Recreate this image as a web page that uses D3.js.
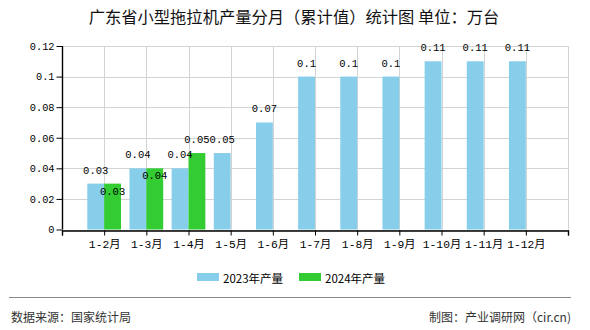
<!DOCTYPE html>
<html>
<head>
<meta charset="utf-8">
<script src="https://cdn.jsdelivr.net/npm/d3@7/dist/d3.min.js"></script>
<style>
  body { margin: 0; background: #fff; }
  svg { display: block; }
</style>
</head>
<body>
<svg id="chart" width="590" height="330"></svg>
<script>
const categories = ["1-2月","1-3月","1-4月","1-5月","1-6月","1-7月","1-8月","1-9月","1-10月","1-11月","1-12月"];
const values2023 = [0.03,0.04,0.04,0.05,0.07,0.1,0.1,0.1,0.11,0.11,0.11];
const values2024 = [0.03,0.04,0.05];
const seriesNames = ["2023年产量","2024年产量"];
const yTicks = [0,0.02,0.04,0.06,0.08,0.1,0.12];
const titleText = "广东省小型拖拉机产量分月（累计值）统计图 单位：万台";
const sourceText = "数据来源：国家统计局";
const creditText = "制图：产业调研网（cir.cn)";

const colors = ["#87CEEB", "#33CC33"];
const numFont = "'Liberation Mono','DejaVu Sans Mono',monospace";
const cjkFont = "'Noto Sans CJK SC','Liberation Sans',sans-serif";

const svg = d3.select("#chart");
const mLeft = 62, mRight = 568, mTop = 46, mBottom = 229.5;

// padded point scale: blank slots at both ends form the axis edges
const xDomain = ["__start"].concat(categories, ["__end"]);
const x = d3.scalePoint().domain(xDomain).range([mLeft, mRight]);
const step = x.step();
const bw = step * 0.4;
const y = d3.scaleLinear().domain([0, 0.12]).range([mBottom, mTop]);

// title
svg.append("text")
  .attr("x", 294).attr("y", 16)
  .attr("text-anchor", "middle").attr("dominant-baseline", "central")
  .style("font-family", cjkFont).style("font-size", "16.3px").style("fill", "#111")
  .text(titleText);

// grid
const grid = svg.append("g");
grid.selectAll("line.h").data(yTicks).join("line")
  .attr("x1", mLeft).attr("x2", mRight)
  .attr("y1", d => Math.round(y(d)) + 0.5).attr("y2", d => Math.round(y(d)) + 0.5)
  .attr("stroke", "#d3d3d3").attr("stroke-width", 1);
grid.selectAll("line.v").data(xDomain).join("line")
  .attr("x1", d => Math.round(x(d)) + 0.5).attr("x2", d => Math.round(x(d)) + 0.5)
  .attr("y1", mTop).attr("y2", mBottom)
  .attr("stroke", "#d3d3d3").attr("stroke-width", 1);

// bars 2023
svg.append("g").selectAll("rect").data(values2023).join("rect")
  .attr("x", (d, i) => x(categories[i]) - bw)
  .attr("width", bw)
  .attr("y", d => y(d))
  .attr("height", d => y(0) - y(d))
  .attr("fill", colors[0]);

// bars 2024
svg.append("g").selectAll("rect").data(values2024).join("rect")
  .attr("x", (d, i) => x(categories[i]))
  .attr("width", bw)
  .attr("y", d => y(d))
  .attr("height", d => y(0) - y(d))
  .attr("fill", colors[1]);

// y axis
const yAxis = svg.append("g")
  .attr("transform", `translate(${mLeft + 0.5},0)`)
  .call(d3.axisLeft(y).tickValues(yTicks).tickSize(6).tickPadding(2).tickFormat(d => String(+d.toFixed(2))));
yAxis.select(".domain").attr("stroke", "#000").attr("stroke-width", 1.4).attr("d", `M0,${mTop}V${mBottom}`);
yAxis.selectAll(".tick line").attr("stroke", "#000");
yAxis.selectAll("text").style("font-family", numFont).style("font-size", "10.3px").style("fill", "#000");

// x axis
const xAxis = svg.append("g")
  .attr("transform", `translate(0,${Math.round(mBottom) + 0.5})`)
  .call(d3.axisBottom(x).tickSize(5).tickPadding(4).tickFormat(d => d.startsWith("__") ? "" : d));
xAxis.select(".domain").attr("stroke", "#000").attr("stroke-width", 1.4);
xAxis.selectAll(".tick line").attr("stroke", "#000");
xAxis.selectAll("text").style("font-family", numFont + ",'Noto Sans CJK SC'").style("font-size", "11.3px").style("fill", "#000");

// data labels
const lbl = svg.append("g").style("font-family", numFont).style("font-size", "10.5px").style("fill", "#000");
lbl.selectAll("text.a").data(values2023).join("text")
  .attr("class", "a")
  .attr("x", (d, i) => x(categories[i]) - bw / 2)
  .attr("y", d => y(d) - 13)
  .attr("text-anchor", "middle").attr("dominant-baseline", "central")
  .text(d => String(d));
lbl.selectAll("text.b").data(values2024).join("text")
  .attr("class", "b")
  .attr("x", (d, i) => x(categories[i]) + bw / 2)
  .attr("y", (d, i) => values2023[i] === d ? y(d) + 8 : y(d) - 13)
  .attr("text-anchor", "middle").attr("dominant-baseline", "central")
  .text(d => String(d));

// legend
const legendX = [197, 299];
const lg = svg.append("g");
seriesNames.forEach((name, i) => {
  lg.append("rect").attr("x", legendX[i]).attr("y", 273).attr("width", 22).attr("height", 8).attr("fill", colors[i]);
  lg.append("text").attr("x", legendX[i] + 26).attr("y", 277.5)
    .attr("dominant-baseline", "central")
    .style("font-family", cjkFont).style("font-size", "11.5px").style("fill", "#000")
    .text(name);
});

// footer
svg.append("line").attr("x1", 9).attr("x2", 571).attr("y1", 297.5).attr("y2", 297.5)
  .attr("stroke", "#888").attr("stroke-width", 1.2);
svg.append("text").attr("x", 11).attr("y", 316).attr("dominant-baseline", "central")
  .style("font-family", cjkFont).style("font-size", "12px").style("fill", "#333")
  .text(sourceText);
svg.append("text").attr("x", 571).attr("y", 316).attr("text-anchor", "end").attr("dominant-baseline", "central")
  .style("font-family", cjkFont).style("font-size", "12px").style("fill", "#333")
  .text(creditText);
</script>
</body>
</html>
